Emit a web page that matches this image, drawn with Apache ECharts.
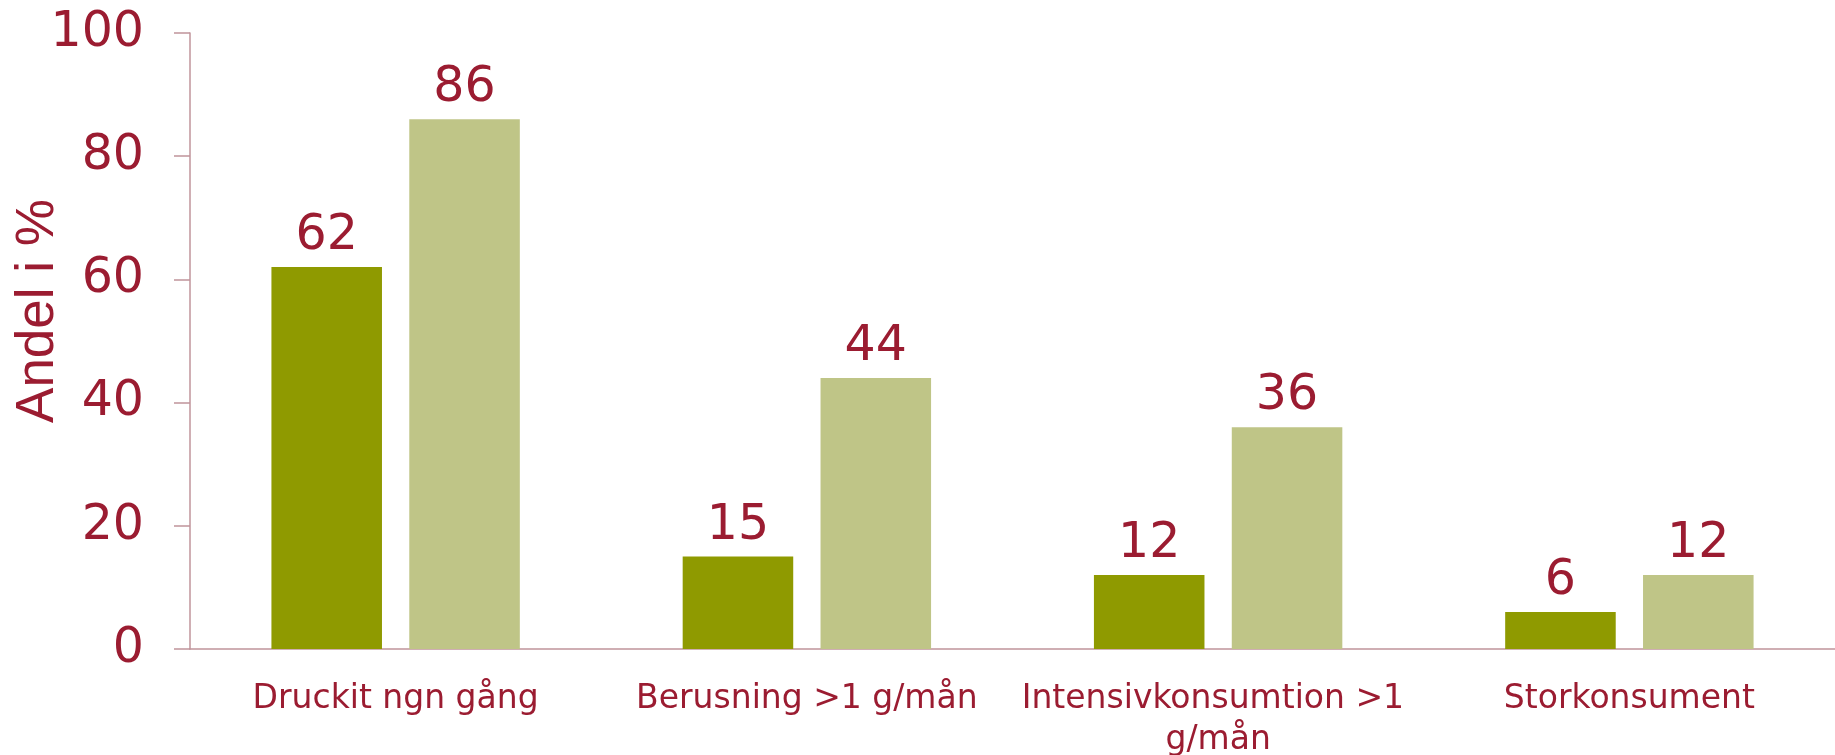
<!DOCTYPE html>
<html><head><meta charset="utf-8">
<script src="https://cdn.jsdelivr.net/npm/echarts@6/dist/echarts.min.js"></script>
<style>html,body{margin:0;padding:0;background:#fff}#c{width:1835px;height:755px}</style>
</head><body><div id="c"></div>
<script>
const categories = ["Druckit ngn gång", "Berusning >1 g/mån", "Intensivkonsumtion >1 g/mån", "Storkonsument"];
const seriesA = [62, 15, 12, 6];
const seriesB = [86, 44, 36, 12];
const yTicks = [0, 20, 40, 60, 80, 100];
const yName = "Andel i %";

const textColor = "#9B1C31";
const axisColor = "#C0949B";
const chart = echarts.init(document.getElementById('c'), null, {renderer: 'canvas'});
const labelCfg = {show: true, position: 'top', distance: 6, color: textColor, fontFamily: 'DejaVu Sans', fontSize: 49};
chart.setOption({
  animation: false,
  grid: {left: 190, right: 0, top: 33, bottom: 106, containLabel: false, outerBoundsMode: 'none'},
  xAxis: {
    type: 'category', data: categories,
    axisLine: {show: true, lineStyle: {color: axisColor, width: 1.5}},
    axisTick: {show: false},
    axisLabel: {color: textColor, fontFamily: 'DejaVu Sans', fontSize: 33, lineHeight: 41, margin: 30, interval: 0, width: 405, overflow: 'break'}
  },
  yAxis: {
    type: 'value', min: yTicks[0], max: yTicks[yTicks.length - 1], interval: 20,
    name: yName, nameLocation: 'middle', nameGap: 125, nameMoveOverlap: false,
    nameTextStyle: {color: textColor, fontFamily: 'Liberation Sans', fontSize: 53, padding: [0, 0, 0, 60]},
    axisLine: {show: true, lineStyle: {color: axisColor, width: 1.5}},
    axisTick: {show: true, inside: false, length: 16, lineStyle: {color: axisColor, width: 1.5}},
    splitLine: {show: false},
    axisLabel: {color: textColor, fontFamily: 'DejaVu Sans', fontSize: 49, margin: 46}
  },
  series: [
    {type: 'bar', data: seriesA, itemStyle: {color: '#8F9A00'}, barGap: '24.7%', barCategoryGap: '39.6%', label: labelCfg},
    {type: 'bar', data: seriesB, itemStyle: {color: '#BFC587'}, barGap: '24.7%', barCategoryGap: '39.6%', label: labelCfg}
  ]
});
</script></body></html>
